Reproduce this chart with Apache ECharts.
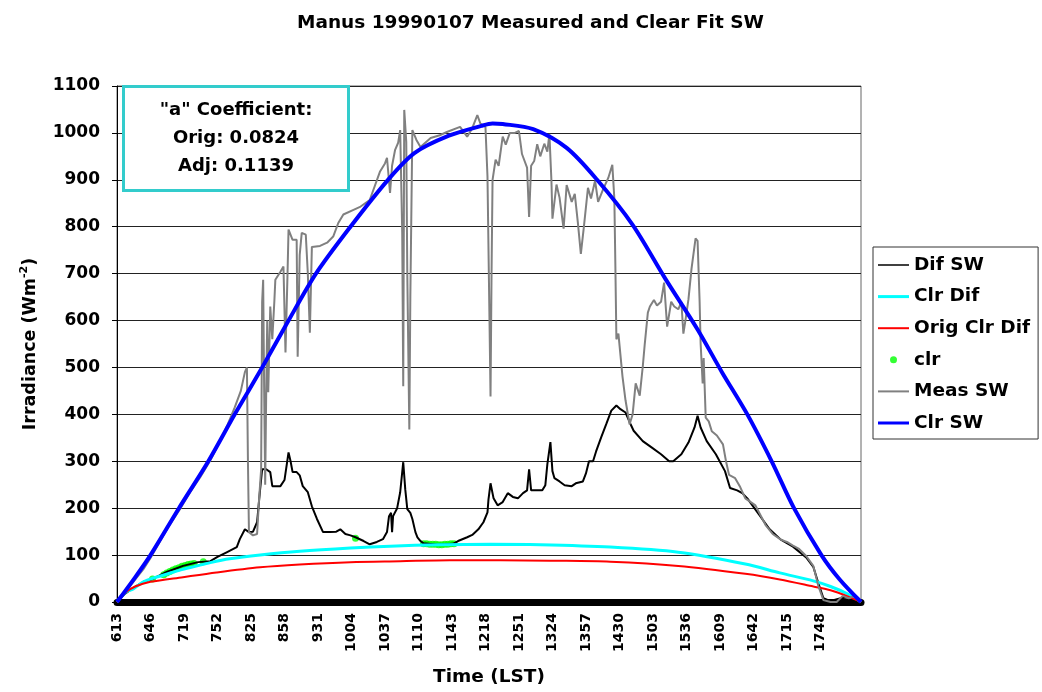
<!DOCTYPE html>
<html>
<head>
<meta charset="utf-8">
<title>Manus 19990107 Measured and Clear Fit SW</title>
<script src="https://cdn.jsdelivr.net/npm/echarts@6.0.0/dist/echarts.min.js"></script>
<style>
  html, body { margin: 0; padding: 0; background: #fff; }
  #main { width: 1042px; height: 692px; }
</style>
</head>
<body>
<div id="main"></div>
<script>
// x = minute index from 06:13 (category position), labels every 33 samples
var tickLabels = ['613','646','719','752','825','858','931','1004','1037','1110','1143',
                  '1218','1251','1324','1357','1430','1503','1536','1609','1642','1715','1748'];

var difSW = [[0,0],[8,18],[18,33],[26,43],[35,49],[49,64],[65,77],[80,85],[92,87],[99,96],[108,106],
  [118,117],[121,134],[126,155],[130,149],[134,150],[138,170],[141,240],[143,283],[147,283],[151,277],
  [153,247],[161,247],[165,260],[168,304],[169,319],[171,300],[173,277],[177,277],[180,270],[183,247],
  [188,234],[192,204],[197,177],[203,149],[210,149],[216,150],[220,155],[225,145],[230,142],[235,138],
  [243,130],[249,123],[256,128],[262,134],[266,149],[268,183],[270,190],[271,149],[272,183],[276,200],
  [279,234],[282,298],[284,240],[286,198],[289,190],[291,177],[294,149],[296,138],[299,130],[302,125],
  [316,122],[331,124],[336,130],[345,138],[350,143],[356,155],[361,170],[365,191],[366,219],[368,253],
  [371,221],[375,206],[380,213],[385,232],[390,224],[395,221],[400,232],[404,238],[406,283],[408,238],
  [412,238],[419,238],[422,249],[424,294],[427,341],[429,279],[431,264],[436,257],[441,249],[448,247],
  [452,253],[459,257],[462,274],[465,300],[469,300],[472,321],[477,351],[482,379],[487,408],[492,419],
  [496,411],[501,404],[506,379],[509,365],[518,343],[527,329],[536,315],[544,300],[548,300],[556,315],
  [563,340],[569,372],[572,397],[575,372],[581,343],[590,315],[599,279],[604,243],[611,238],[616,232],
  [621,221],[626,206],[633,185],[643,155],[654,133],[666,118],[679,95],[686,75],[691,40],[696,8],
  [703,2],[713,8],[723,10],[733,0]];

var clrDif = [[0,0],[8,20],[16,28],[26,43],[37,52],[47,58],[62,68],[77,76],[92,84],[111,92],[141,100],
  [180,108],[230,115],[269,119],[318,122],[368,123],[417,122],[486,117],[553,106],[619,81],[653,62],
  [686,45],[703,33],[720,17],[733,0]];

var origClrDif = [[0,0],[8,20],[18,33],[33,43],[65,53],[98,63],[141,74],[180,80],[230,85],[279,87],
  [328,89],[378,89],[427,88],[486,86],[553,77],[619,60],[653,48],[686,33],[703,25],[720,12],[733,0]];

var clrPoints = [[35,49],[46,58],[49,62],[52,65],[55,68],[58,71],[61,73],[64,76],[67,78],[70,80],
  [73,81],[76,82],[85,86],[235,136],[302,124],[305,124],[308,123],[311,123],[314,123],[317,122],
  [320,122],[323,123],[326,123],[329,124],[332,124]];

var measSW = [[0,0],[8,20],[18,48],[26,70],[33,94],[42,128],[52,165],[62,198],[72,234],[82,266],[92,302],
  [102,345],[109,378],[116,415],[122,450],[126,490],[128,500],[129,300],[130,149],[134,142],[138,145],
  [140,220],[142,283],[143,640],[144,687],[145,447],[146,250],[147,447],[148,600],[149,447],[151,630],
  [153,560],[155,640],[156,687],[161,704],[164,715],[166,532],[168,700],[169,794],[173,772],[177,772],
  [178,523],[180,740],[182,787],[186,783],[188,700],[190,574],[192,757],[200,759],[207,766],[213,779],
  [218,808],[223,826],[233,836],[240,843],[249,857],[259,917],[264,935],[266,947],[269,872],[271,930],
  [274,964],[277,979],[279,1006],[281,787],[282,460],[283,1049],[285,980],[286,700],[288,368],[289,650],
  [291,1006],[295,985],[299,970],[309,989],[318,995],[325,1002],[338,1013],[345,992],[350,1010],
  [355,1038],[358,1020],[363,1013],[365,907],[367,600],[368,438],[369,700],[370,900],[373,943],
  [376,930],[380,992],[383,975],[387,1000],[392,1000],[396,1004],[399,955],[404,926],[406,821],
  [408,930],[411,940],[414,976],[417,950],[421,977],[424,960],[426,998],[428,898],[429,817],[433,890],
  [436,862],[440,796],[443,889],[448,853],[451,870],[454,810],[457,742],[460,800],[464,883],[467,860],
  [471,898],[474,853],[479,880],[484,904],[488,932],[490,860],[491,717],[492,560],[494,572],[498,481],
  [501,430],[505,379],[508,400],[511,466],[515,440],[518,502],[520,551],[523,617],[525,630],[529,644],
  [532,632],[536,640],[539,681],[542,587],[546,640],[549,630],[553,624],[556,640],[558,572],[560,600],
  [563,645],[566,710],[570,775],[572,770],[574,640],[575,551],[577,466],[578,520],[580,393],[583,385],
  [586,364],[591,355],[597,336],[600,300],[603,271],[609,264],[614,245],[619,221],[629,206],[634,185],
  [639,164],[646,145],[654,133],[660,128],[666,120],[672,113],[679,98],[686,77],[691,34],[696,4],
  [703,0],[709,0],[715,13],[721,8],[726,13],[730,5],[733,0]];

var clrSW = [[0,0],[17,50],[33,100],[61,200],[90,300],[116,400],[143,500],[169,600],[196,700],[230,800],
  [267,900],[293,957],[327,994],[359,1015],[370,1020],[380,1019],[410,1008],[443,968],[473,900],
  [508,804],[540,690],[572,581],[596,490],[621,400],[645,300],[667,200],[694,100],[712,48],[733,0]];

var font = 'DejaVu Sans';
var myChart = echarts.init(document.getElementById('main'), null, { renderer: 'canvas' });

// legend icons: plain strokes of the series' width, drawn in a 31x20 box
function lineIcon(w) {
  var a = 10 - w / 2, b = 10 + w / 2;
  return 'path://M0 0M31 20M0 ' + a + 'L31 ' + a + 'L31 ' + b + 'L0 ' + b + 'z';
}

var boxFont = 'bold 18px ' + font;

var option = {
  animation: false,
  backgroundColor: '#fff',
  title: {
    text: 'Manus 19990107 Measured and Clear Fit SW',
    left: 292, top: 9,
    textStyle: { fontFamily: font, fontWeight: 'bold', fontSize: 18.5, color: '#000' }
  },
  grid: { left: 117, right: 181, top: 86, bottom: 89, show: true, borderColor: '#666', borderWidth: 1 },
  legend: {
    orient: 'vertical', left: 873, top: 247,
    padding: [8, 8, 6, 5], itemWidth: 31, itemHeight: 20, itemGap: 11.6,
    borderColor: '#333', borderWidth: 1, backgroundColor: '#fff',
    textStyle: { fontFamily: font, fontWeight: 'bold', fontSize: 18.5, color: '#000', lineHeight: 20 },
    data: [
      { name: 'Dif SW', icon: lineIcon(1.5) },
      { name: 'Clr Dif', icon: lineIcon(3) },
      { name: 'Orig Clr Dif', icon: lineIcon(2) },
      { name: 'clr', icon: 'path://M0 0M31 20M12 10a3.5 3.5 0 1 0 7 0a3.5 3.5 0 1 0 -7 0z' },
      { name: 'Meas SW', icon: lineIcon(2) },
      { name: 'Clr SW', icon: lineIcon(3) }
    ]
  },
  xAxis: {
    type: 'value', min: 0, max: 733, interval: 33, offset: 4,
    axisLine: { lineStyle: { color: '#000', width: 7 } },
    axisTick: { show: false },
    splitLine: { show: false },
    axisLabel: {
      rotate: 90, margin: 7, color: '#000',
      fontFamily: font, fontWeight: 'bold', fontSize: 14,
      formatter: function (v) { return v % 33 === 0 ? (tickLabels[v / 33] || '') : ''; }
    },
    name: 'Time (LST)', nameLocation: 'middle', nameGap: 62,
    nameTextStyle: { fontFamily: font, fontWeight: 'bold', fontSize: 18.5, color: '#000' }
  },
  yAxis: {
    type: 'value', min: 0, max: 1100, interval: 100,
    axisLine: { show: true, lineStyle: { color: '#000', width: 1 } },
    axisTick: { show: true, length: 5, lineStyle: { color: '#000' } },
    splitLine: { lineStyle: { color: '#222', width: 1 } },
    axisLabel: {
      margin: 17, color: '#000', fontFamily: font, fontWeight: 'bold', fontSize: 17,
      formatter: function (v) { return String(v); }
    },
    name: '{a|Irradiance (Wm}{s|-2}{a|)}', nameLocation: 'middle', nameGap: 76, nameRotate: 90,
    nameTextStyle: {
      rich: {
        a: { fontFamily: font, fontWeight: 'bold', fontSize: 17.5, color: '#000', lineHeight: 22 },
        s: { fontFamily: font, fontWeight: 'bold', fontSize: 11, color: '#000', lineHeight: 12, verticalAlign: 'top' }
      }
    }
  },
  graphic: [
    { type: 'rect', id: 'coefBox', shape: { x: 123.5, y: 86.5, width: 225, height: 104 },
      style: { fill: '#fff', stroke: '#33CCCC', lineWidth: 3 }, z: 10 },
    { type: 'text', id: 'coef1', x: 236, y: 110, z: 11,
      style: { text: '"a" Coefficient:', font: boxFont, fill: '#000', align: 'center', verticalAlign: 'middle' } },
    { type: 'text', id: 'coef2', x: 236, y: 138, z: 11,
      style: { text: 'Orig: 0.0824', font: boxFont, fill: '#000', align: 'center', verticalAlign: 'middle' } },
    { type: 'text', id: 'coef3', x: 236, y: 166, z: 11,
      style: { text: 'Adj: 0.1139', font: boxFont, fill: '#000', align: 'center', verticalAlign: 'middle' } }
  ],
  series: [
    { name: 'Dif SW', type: 'line', data: difSW, symbol: 'none',
      lineStyle: { color: '#000', width: 2 }, itemStyle: { color: '#000' } },
    { name: 'Clr Dif', type: 'line', data: clrDif, symbol: 'none', smooth: 0.3,
      lineStyle: { color: '#00FFFF', width: 3 }, itemStyle: { color: '#00FFFF' } },
    { name: 'Orig Clr Dif', type: 'line', data: origClrDif, symbol: 'none', smooth: 0.3,
      lineStyle: { color: '#FF0000', width: 2 }, itemStyle: { color: '#FF0000' } },
    { name: 'clr', type: 'scatter', data: clrPoints, symbol: 'circle', symbolSize: 7,
      itemStyle: { color: '#00FF00' } },
    { name: 'Meas SW', type: 'line', data: measSW, symbol: 'none',
      lineStyle: { color: '#808080', width: 2 }, itemStyle: { color: '#808080' } },
    { name: 'Clr SW', type: 'line', data: clrSW, symbol: 'none', smooth: 0.3,
      lineStyle: { color: '#0000FF', width: 4 }, itemStyle: { color: '#0000FF' } }
  ]
};
myChart.setOption(option);
</script>
</body>
</html>
